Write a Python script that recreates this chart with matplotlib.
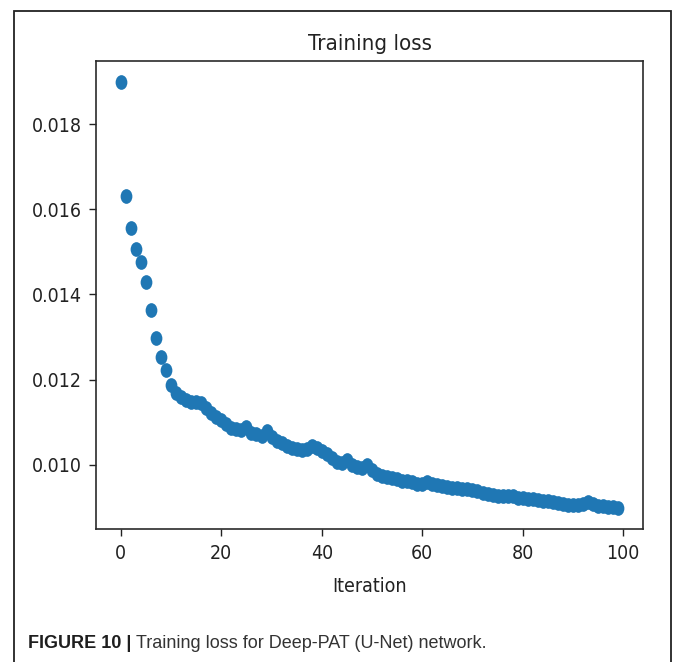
import numpy as np
import matplotlib
matplotlib.use('Agg')
import matplotlib.pyplot as plt
from matplotlib.path import Path
from matplotlib.markers import MarkerStyle
from matplotlib.patches import Rectangle
from matplotlib.transforms import Affine2D

# training loss per iteration
iteration = np.arange(100)
loss = [
    0.01898, 0.01631, 0.01555, 0.01506, 0.01475, 0.01429, 0.01363, 0.01298, 0.01252, 0.01222,
    0.01188, 0.01169, 0.01158, 0.01151, 0.01148, 0.01148, 0.01144, 0.01134, 0.01122, 0.01111,
    0.01104, 0.01096, 0.01087, 0.01085, 0.01082, 0.01089, 0.01075, 0.01071, 0.01068, 0.01080,
    0.01066, 0.01056, 0.01052, 0.01045, 0.01040, 0.01038, 0.01035, 0.01038, 0.01045, 0.01040,
    0.01033, 0.01024, 0.01016, 0.01007, 0.01005, 0.01012, 0.01000, 0.00995, 0.00993, 0.01000,
    0.00988, 0.00979, 0.00974, 0.00972, 0.00969, 0.00967, 0.00962, 0.00962, 0.00960, 0.00955,
    0.00955, 0.00960, 0.00955, 0.00953, 0.00951, 0.00948, 0.00946, 0.00946, 0.00944, 0.00944,
    0.00941, 0.00939, 0.00934, 0.00932, 0.00929, 0.00927, 0.00927, 0.00927, 0.00927, 0.00922,
    0.00922, 0.00920, 0.00920, 0.00918, 0.00915, 0.00915, 0.00913, 0.00911, 0.00908, 0.00906,
    0.00906, 0.00906, 0.00908, 0.00913, 0.00908, 0.00904, 0.00904, 0.00901, 0.00901, 0.00899,
]
y_ticks = [0.010, 0.012, 0.014, 0.016, 0.018]
x_ticks = [0, 20, 40, 60, 80, 100]

W, H = 676, 662
plt.rcParams['font.family'] = ['DejaVu Sans']
plt.rcParams['font.stretch'] = 'condensed'

fig = plt.figure(figsize=(W / 100, H / 100), dpi=100)
fig.patch.set_facecolor('white')
ax = fig.add_axes([96 / W, 1 - 529 / H, (643 - 96) / W, (529 - 61) / H])

# the source image is squeezed sideways, so the dots are a bit taller than wide
ell = Path.unit_circle().transformed(Affine2D().scale(0.8, 1.0))
ax.scatter(iteration, loss, s=112, marker=MarkerStyle(ell), color='#1f77b4', linewidths=0)

ax.set_xticks(x_ticks)
ax.set_yticks(y_ticks)
ax.set_yticklabels([f'{v:.3f}' for v in y_ticks])
ax.tick_params(labelsize=14, colors='#222222', length=5, width=1.0)
ax.tick_params(axis='y', pad=5)
ax.tick_params(axis='x', pad=6)
for s in ax.spines.values():
    s.set_color('#2a2a2a')
    s.set_linewidth(1.2)

ax.set_title('Training loss', fontsize=16, color='#222222', pad=8)
ax.set_xlabel('Iteration', fontsize=14, color='#222222', labelpad=10)

# outer frame of the published figure
fig.patches.append(Rectangle((14 / W, -0.05), (671 - 14) / W, 1.05 - 11 / H,
                             transform=fig.transFigure, fill=False,
                             edgecolor='#222222', linewidth=1.3))

cap = fig.text(28 / W, 1 - 652 / H, 'FIGURE 10 |', fontsize=13, fontweight='bold',
               family=['Liberation Sans', 'DejaVu Sans'], fontstretch='normal',
               color='#1e1e1e', va='bottom', ha='left')
ax.annotate('Training loss for Deep-PAT (U-Net) network.', xy=(1, 0), xycoords=cap,
            xytext=(3, 0), textcoords='offset points', fontsize=13,
            family=['Liberation Sans', 'DejaVu Sans'], fontstretch='normal',
            color='#333333', va='bottom', ha='left', annotation_clip=False)

fig.savefig('out.png', dpi=100)
